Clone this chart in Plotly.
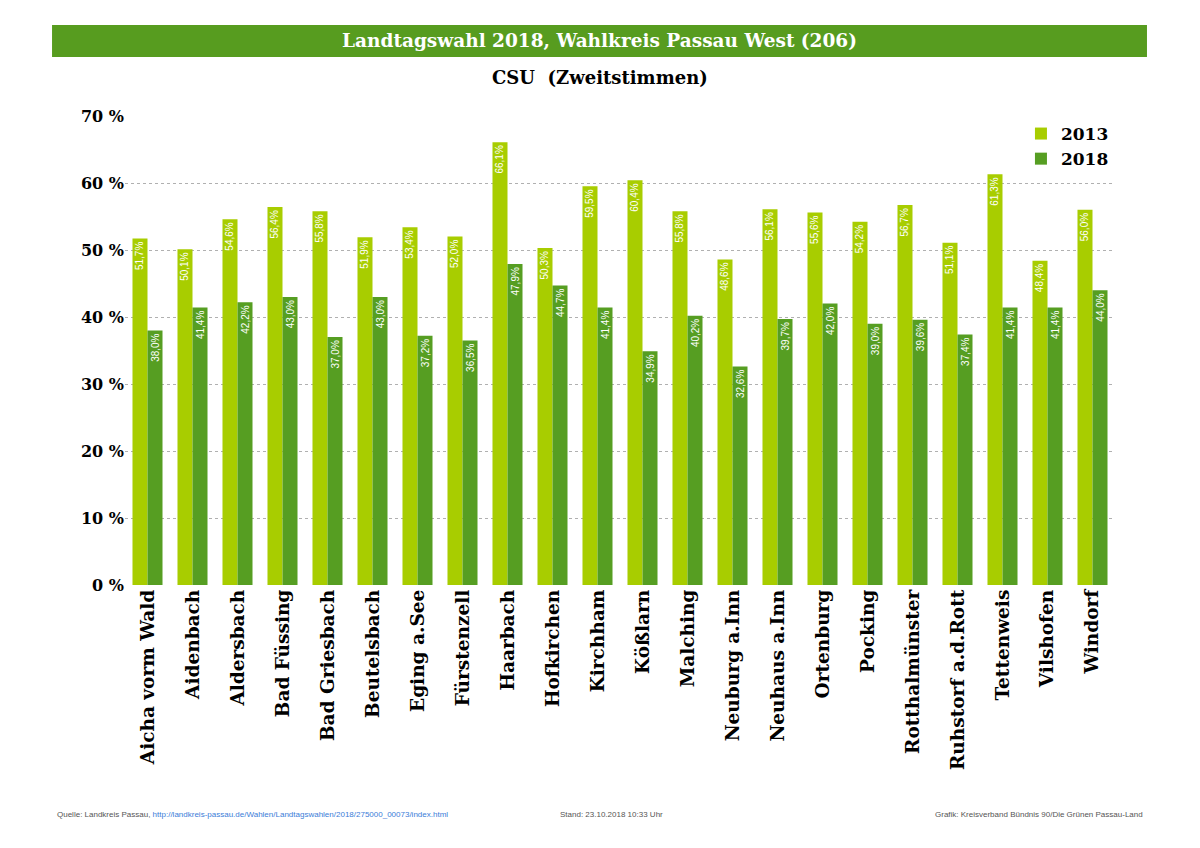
import plotly.graph_objects as go

# Data
gemeinden = [
    'Aicha vorm Wald', 'Aidenbach', 'Aldersbach', 'Bad Füssing', 'Bad Griesbach',
    'Beutelsbach', 'Eging a.See', 'Fürstenzell', 'Haarbach', 'Hofkirchen',
    'Kirchham', 'Kößlarn', 'Malching', 'Neuburg a.Inn', 'Neuhaus a.Inn',
    'Ortenburg', 'Pocking', 'Rotthalmünster', 'Ruhstorf a.d.Rott', 'Tettenweis',
    'Vilshofen', 'Windorf'
]
csu_2013 = [51.7, 50.1, 54.6, 56.4, 55.8, 51.9, 53.4, 52.0, 66.1, 50.3, 59.5,
            60.4, 55.8, 48.6, 56.1, 55.6, 54.2, 56.7, 51.1, 61.3, 48.4, 56.0]
csu_2018 = [38.0, 41.4, 42.2, 43.0, 37.0, 43.0, 37.2, 36.5, 47.9, 44.7, 41.4,
            34.9, 40.2, 32.6, 39.7, 42.0, 39.0, 39.6, 37.4, 41.4, 41.4, 44.0]
y_ticks = [0, 10, 20, 30, 40, 50, 60, 70]
y_tick_labels = ['0 %', '10 %', '20 %', '30 %', '40 %', '50 %', '60 %', '70 %']

light_green = '#a8cd00'
dark_green = '#569e22'
header_green = '#579c1f'
slab = 'DejaVu Serif, serif'
narrow = 'Liberation Sans Narrow, Arial Narrow, sans-serif'

fig = go.Figure()

for name, vals, col in [('2013', csu_2013, light_green), ('2018', csu_2018, dark_green)]:
    fig.add_trace(go.Bar(
        x=gemeinden,
        y=vals,
        name=name,
        marker=dict(color=col, line=dict(width=0)),
        texttemplate='%{y:.1f}%',
        textposition='inside',
        insidetextanchor='end',
        textangle=-90,
        textfont=dict(color='white', size=10, family=narrow),
        constraintext='none',
        cliponaxis=False,
    ))

fig.update_layout(
    width=1200,
    height=848,
    barmode='group',
    bargap=0.333,
    bargroupgap=0,
    separators=', ',
    plot_bgcolor='white',
    paper_bgcolor='white',
    margin=dict(l=117, r=93, t=108, b=271),
    showlegend=True,
    legend=dict(
        x=0.905, y=1.0, xanchor='left', yanchor='top',
        font=dict(family=slab, size=17, color='black', weight='bold'),
        bgcolor='rgba(0,0,0,0)',
        itemwidth=30,
        tracegroupgap=2,
    ),
    font=dict(family=slab, color='black'),
)

fig.update_yaxes(
    range=[0, 70],
    tickmode='array',
    tickvals=y_ticks,
    ticktext=y_tick_labels,
    tickfont=dict(family=slab, size=16, weight='bold'),
    showgrid=True,
    gridcolor='#b0b0b0',
    griddash='dot',
    gridwidth=1,
    zeroline=False,
    showline=False,
    ticks='',
)
fig.update_xaxes(
    tickangle=-90,
    tickfont=dict(family=slab, size=18.5, weight='bold'),
    showline=False,
    ticks='',
)

# Green header bar with title
fig.add_shape(type='rect', xref='paper', yref='paper',
              x0=-0.0737, x1=1.0323, y0=1.1258, y1=1.194,
              fillcolor=header_green, line=dict(width=0), layer='below')
fig.add_annotation(xref='paper', yref='paper', x=0.4793, y=1.16,
                   text='Landtagswahl 2018, Wahlkreis Passau West (206)',
                   showarrow=False, xanchor='center', yanchor='middle',
                   font=dict(family=slab, size=18.5, color='white', weight='bold'))
fig.add_annotation(xref='paper', yref='paper', x=0.4793, y=1.083,
                   text='CSU  (Zweitstimmen)',
                   showarrow=False, xanchor='center', yanchor='middle',
                   font=dict(family=slab, size=18, color='black', weight='bold'))

# Footer
footer_font = dict(family='Liberation Sans, Arial, sans-serif', size=8, color='#555555')
fig.add_annotation(xref='paper', yref='paper', x=-0.0707, y=-0.49,
                   text='Quelle: Landkreis Passau, <span style="color:#3b7dd8">'
                        'http://landkreis-passau.de/Wahlen/Landtagswahlen/2018/275000_00073/index.html</span>',
                   showarrow=False, xanchor='left', yanchor='middle', font=footer_font)
fig.add_annotation(xref='paper', yref='paper', x=0.4374, y=-0.49,
                   text='Stand: 23.10.2018 10:33 Uhr',
                   showarrow=False, xanchor='left', yanchor='middle', font=footer_font)
fig.add_annotation(xref='paper', yref='paper', x=1.0303, y=-0.49,
                   text='Grafik: Kreisverband Bündnis 90/Die Grünen Passau-Land',
                   showarrow=False, xanchor='right', yanchor='middle', font=footer_font)

fig.write_html('out.html')
